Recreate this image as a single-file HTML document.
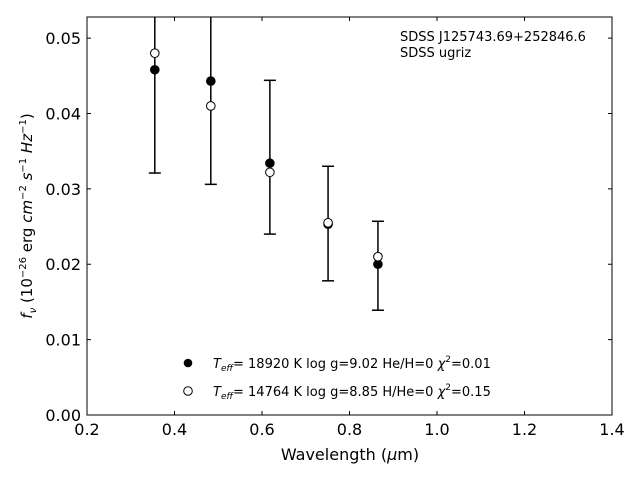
<!DOCTYPE html>
<html><head><meta charset="utf-8"><style>
body{margin:0;background:#fff;}
svg text{font-family:"DejaVu Sans","Liberation Sans",sans-serif;}
</style></head><body>
<svg id="chart" width="640" height="480" xmlns="http://www.w3.org/2000/svg"></svg>
<script>
const wavelengths=[0.355,0.483,0.618,0.751,0.865];
const fluxFilled=[0.0458,0.0443,0.0334,0.0253,0.0200];
const fluxOpen=[0.0480,0.0410,0.0322,0.0255,0.0210];
const errLow=[0.0321,0.0306,0.0240,0.0178,0.0139];
const errHigh=[0.060,0.058,0.0444,0.0330,0.0257];
const xTicks=[0.2,0.4,0.6,0.8,1.0,1.2,1.4];
const yTicks=[0.00,0.01,0.02,0.03,0.04,0.05];
const X0=87,X1=612,Y0=415,Y1=17;
const xs=v=>X0+(v-0.2)/1.2*(X1-X0);
const ys=v=>Y0-v/0.0528*(Y0-Y1);
const svg=document.getElementById('chart');
const NS='http://www.w3.org/2000/svg';
function mk(t,a,p){const e=document.createElementNS(NS,t);for(const k in a)e.setAttribute(k,a[k]);(p||svg).appendChild(e);return e;}
const defs=mk('defs',{});const cp=mk('clipPath',{id:'c'},defs);mk('rect',{x:X0,y:Y1,width:X1-X0,height:Y0-Y1},cp);
const plot=mk('g',{'clip-path':'url(#c)'});


wavelengths.forEach((w,i)=>{
 const x=xs(w);
 const g=mk('g',{},plot);
 
 
 mk('line',{x1:x,x2:x,y1:ys(errLow[i]),y2:ys(errHigh[i]),stroke:'#000','stroke-width':1.5},g);
 mk('line',{x1:x-6,x2:x+6,y1:ys(errLow[i]),y2:ys(errLow[i]),stroke:'#000','stroke-width':1.5},g);
 mk('line',{x1:x-6,x2:x+6,y1:ys(errHigh[i]),y2:ys(errHigh[i]),stroke:'#000','stroke-width':1.5},g);
});
wavelengths.forEach((w,i)=>{
 const c=mk('circle',{cx:xs(w),cy:ys(fluxFilled[i]),r:4.3,fill:'#000',stroke:'#000'},plot);
 
 
 const o=mk('circle',{cx:xs(w),cy:ys(fluxOpen[i]),r:4.3,fill:'#fff',stroke:'#000'},plot);
 
 
});
const frame=mk('rect',{x:X0,y:Y1,width:X1-X0,height:Y0-Y1,fill:'none',stroke:'#000','stroke-width':1});


xTicks.forEach(t=>{
 const x=xs(t);
 mk('line',{x1:x,x2:x,y1:Y0,y2:Y0-4,stroke:'#000'});
 mk('line',{x1:x,x2:x,y1:Y1,y2:Y1+4,stroke:'#000'});
 const tx=mk('text',{x:x,y:Y0+20,'text-anchor':'middle','font-size':16});
 tx.textContent=t.toFixed(1);
 
 
});
yTicks.forEach(t=>{
 const y=ys(t);
 mk('line',{x1:X0,x2:X0+4,y1:y,y2:y,stroke:'#000'});
 mk('line',{x1:X1,x2:X1-4,y1:y,y2:y,stroke:'#000'});
 const tx=mk('text',{x:X0-6,y:y+6,'text-anchor':'end','font-size':16});
 tx.textContent=t.toFixed(2);
 
 
});
</script>
<svg width="640" height="480" style="position:absolute;left:0;top:0" xmlns="http://www.w3.org/2000/svg">
<text x="350" y="460" text-anchor="middle" font-size="16" font-family="DejaVu Sans,sans-serif">Wavelength (<tspan font-style="italic">μ</tspan>m)</text>
<text transform="translate(32,216) rotate(-90)" text-anchor="middle" font-size="15" font-family="DejaVu Sans,sans-serif"><tspan font-style="italic">f</tspan><tspan font-size="10" dy="4" font-style="italic">ν</tspan><tspan dy="-4"> (10</tspan><tspan font-size="10" dy="-6">−26</tspan><tspan dy="6"> erg </tspan><tspan font-style="italic">cm</tspan><tspan font-size="10" dy="-6">−2</tspan><tspan dy="6" font-style="italic"> s</tspan><tspan font-size="10" dy="-6">−1</tspan><tspan dy="6" font-style="italic"> Hz</tspan><tspan font-size="10" dy="-6">−1</tspan><tspan dy="6">)</tspan></text>
<g font-size="13" font-family="DejaVu Sans,sans-serif">
<text x="400" y="41">SDSS J125743.69+252846.6</text>
<text x="400" y="57">SDSS ugriz</text>
</g>
<g font-size="13" font-family="DejaVu Sans,sans-serif">
<circle cx="188" cy="363" r="4.3" fill="#000"/>
<text x="213" y="368"><tspan font-style="italic">T</tspan><tspan font-size="9" dy="3" font-style="italic">eff</tspan><tspan dy="-3">= 18920 K  log g=9.02  He/H=0  </tspan><tspan font-style="italic">χ</tspan><tspan font-size="9" dy="-6">2</tspan><tspan dy="6">=0.01</tspan></text>
<circle cx="188" cy="391" r="4.3" fill="#fff" stroke="#000"/>
<text x="213" y="396"><tspan font-style="italic">T</tspan><tspan font-size="9" dy="3" font-style="italic">eff</tspan><tspan dy="-3">= 14764 K  log g=8.85  H/He=0  </tspan><tspan font-style="italic">χ</tspan><tspan font-size="9" dy="-6">2</tspan><tspan dy="6">=0.15</tspan></text>
</g>
</svg>
</body></html>
